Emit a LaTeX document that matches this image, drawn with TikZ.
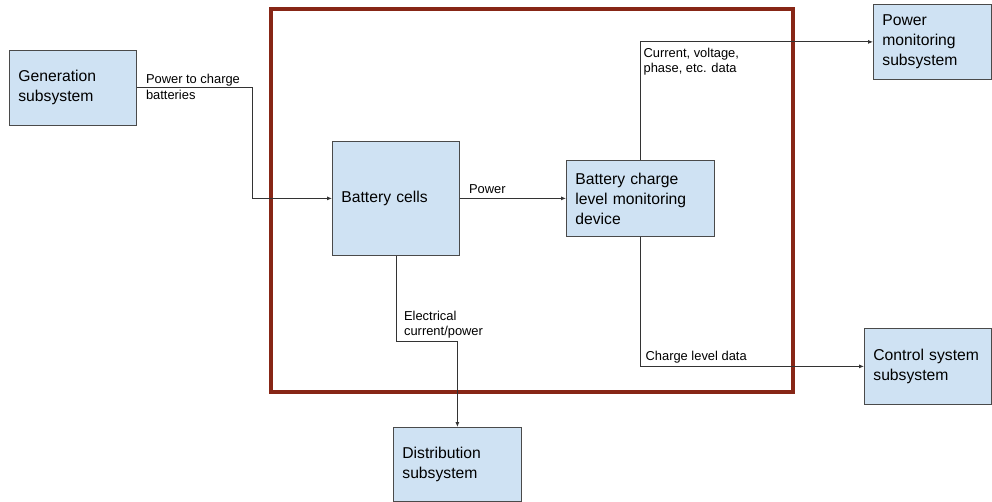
\documentclass[tikz,border=0pt]{standalone}
\usepackage{fontspec}
\setmainfont{Liberation Sans}
\usepackage{tikz}
\usetikzlibrary{arrows.meta,calc,positioning}
\definecolor{boxblue}{HTML}{CFE2F3}
\definecolor{boxedge}{HTML}{4A4A4A}
\definecolor{wiregray}{HTML}{333333}
\definecolor{framered}{RGB}{135,38,22}

\begin{document}
\begin{tikzpicture}[
    x=1pt, y=-1pt,
    block/.style={draw=boxedge, fill=boxblue, line width=0.8pt, align=left,
      anchor=north west, inner xsep=9pt, inner ysep=0pt,
      font=\fontsize{15.7}{20}\selectfont},
    lbl/.style={align=left, inner sep=0pt, font=\fontsize{12.9}{15.5}\selectfont},
    wire/.style={draw=wiregray, line width=0.8pt, -{Latex[length=5pt,width=4pt]}},
    frame/.style={draw=framered, line width=3.6pt}
  ]
    \useasboundingbox (0,0) rectangle (992,502);

    % battery subsystem boundary
    \draw[frame] (271,9) rectangle (793,392);

    \node[block, text width=109pt, minimum height=75pt] (gen) at (9,50) {Generation\\subsystem};
    \node[block, text width=109pt, minimum height=114pt] (cells) at (332,141) {Battery cells};
    \node[block, text width=130pt, minimum height=76pt] (mon) at (566,160) {Battery charge\\level monitoring\\device};
    \node[block, text width=100pt, minimum height=75pt] (pmon) at (873,4) {Power\\monitoring\\subsystem};
    \node[block, text width=109pt, minimum height=76pt] (ctrl) at (864,328) {Control system\\subsystem};
    \node[block, text width=110pt, minimum height=74pt] (dist) at (393,427) {Distribution\\subsystem};

    \draw[wire] (gen.east) -- ++(116,0) |- (cells.west);
    \draw[wire] (cells) -- (mon);
    \draw[wire] (mon.north) |- (pmon.west);
    \draw[wire] (mon.south) |- (ctrl.west);
    \draw[wire] (cells.south) -- ++(0,86) coordinate (dbend) -| (dist.north);

    \node[lbl, anchor=west] (chargelbl) at ([xshift=9pt,yshift=1pt]gen.east) {Power to charge\\batteries};
    \node[lbl, anchor=south west] (powerlbl) at ([xshift=9pt,yshift=5pt]cells.east) {Power};
    \node[lbl, anchor=north west] (datalbl) at ($(mon.north |- pmon.west)+(3,6)$) {Current, voltage,\\phase, etc. data};
    \node[lbl, anchor=south west] (levellbl) at ($(mon.south |- ctrl.west)+(5,-3)$) {Charge level data};
    \node[lbl, anchor=south west] (elecllbl) at ($(dbend)+(8,-3)$) {Electrical\\current/power};
  \end{tikzpicture}
\end{document}
